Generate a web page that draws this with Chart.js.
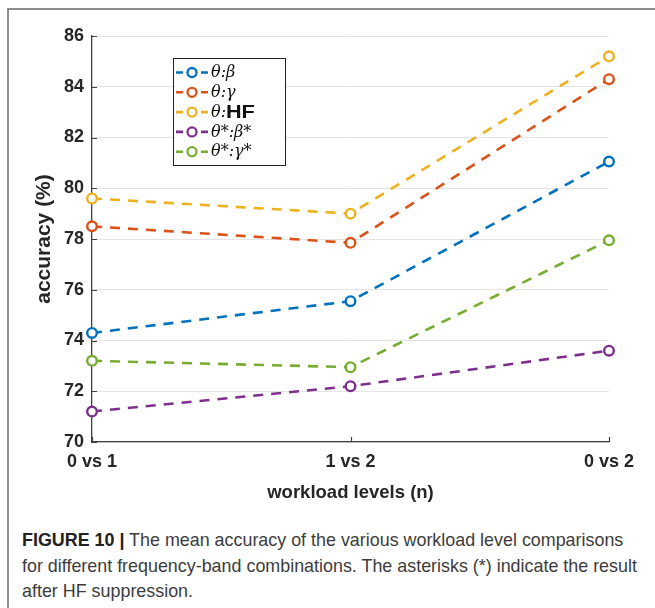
<!DOCTYPE html>
<html>
<head>
<meta charset="utf-8">
<script src="https://cdn.jsdelivr.net/npm/chart.js@4.4.1/dist/chart.umd.min.js"></script>
<style>
  html, body { margin: 0; padding: 0; background: #fff; }
  body { width: 655px; height: 608px; position: relative; overflow: hidden;
         font-family: "Liberation Sans", Arial, sans-serif; }
  #frame { position: absolute; left: 7px; top: 8px; width: 700px; height: 700px;
           border-top: 2px solid #8c8c8c; border-left: 2px solid #8c8c8c; }
  #plot { position: absolute; left: 0; top: 0; width: 655px; height: 520px; }
  #caption { position: absolute; left: 22px; top: 528px; font-size: 17.9px; line-height: 25.5px;
             color: #3c3c3c; white-space: nowrap; }
  #caption b { color: #222; }
</style>
</head>
<body>
<div id="frame"></div>
<div id="plot"><canvas id="chart" width="655" height="520"></canvas></div>
<div id="caption"><b>FIGURE 10 |</b> The mean accuracy of the various workload level comparisons<br>for different frequency-band combinations. The asterisks (*) indicate the result<br>after HF suppression.</div>

<script>
// Workload comparisons on the x axis
const categories = ['0 vs 1', '1 vs 2', '0 vs 2'];

// Mean accuracy (%) per frequency-band combination
const thetaBeta          = [74.3, 75.55, 81.05];
const thetaGamma         = [78.5, 77.85, 84.3];
const thetaHF            = [79.6, 79.0, 85.2];
const thetaStarBetaStar  = [71.2, 72.2, 73.6];
const thetaStarGammaStar = [73.2, 72.95, 77.95];

const seriesNames  = ['θ:β', 'θ:γ', 'θ:HF', 'θ*:β*', 'θ*:γ*'];
const seriesColors = ['#0072BD', '#D95319', '#EDB120', '#7E2F8E', '#77AC30'];
const seriesValues = [thetaBeta, thetaGamma, thetaHF, thetaStarBetaStar, thetaStarGammaStar];

// Y axis range and tick step
const yMin = 70, yMax = 86, yStep = 2;

const xTitle = 'workload levels (n)';
const yTitle = 'accuracy (%)';

const SANS = '"Liberation Sans", Arial, sans-serif';
const SERIF_IT = 'italic 16px "DejaVu Serif", serif';
const TEXT = '#262626';
const AXIS = '#404040';

// Short inward tick marks on both axes
const innerTicks = {
  id: 'innerTicks',
  beforeDatasetsDraw(chart) {
    const { ctx, chartArea: a, scales: { x, y } } = chart;
    ctx.save();
    ctx.strokeStyle = AXIS;
    ctx.lineWidth = 1.2;
    ctx.beginPath();
    y.ticks.forEach((t, i) => {
      const py = Math.round(y.getPixelForTick(i)) + 0.5;
      ctx.moveTo(a.left, py); ctx.lineTo(a.left + 5, py);
    });
    x.ticks.forEach((t, i) => {
      const px = Math.round(x.getPixelForTick(i)) + 0.5;
      ctx.moveTo(px, a.bottom); ctx.lineTo(px, a.bottom - 5);
    });
    ctx.stroke();
    ctx.restore();
  }
};

// Boxed legend with mixed italic-serif / bold-sans labels
const boxedLegend = {
  id: 'boxedLegend',
  afterDraw(chart) {
    const { ctx } = chart;
    const bx = 173.5, by = 58.5, bw = 112, bh = 107;
    ctx.save();
    ctx.fillStyle = '#fff';
    ctx.fillRect(bx, by, bw, bh);
    ctx.strokeStyle = '#222';
    ctx.lineWidth = 1;
    ctx.strokeRect(bx, by, bw, bh);
    chart.data.datasets.forEach((ds, i) => {
      const cy = 72.5 + i * 19.8;
      ctx.strokeStyle = ds.borderColor;
      ctx.lineWidth = 2.6;
      ctx.setLineDash([]);
      ctx.beginPath();
      ctx.moveTo(176, cy); ctx.lineTo(183, cy);
      ctx.moveTo(201, cy); ctx.lineTo(208, cy);
      ctx.stroke();
      ctx.lineWidth = 2.3;
      ctx.fillStyle = '#fff';
      ctx.beginPath();
      ctx.arc(192, cy, 4.5, 0, Math.PI * 2);
      ctx.fill();
      ctx.stroke();
      // label text, drawn glyph by glyph
      ctx.fillStyle = '#111';
      ctx.textBaseline = 'middle';
      let tx = 211;
      for (const ch of ds.label) {
        const sans = /[A-Z]/.test(ch);
        ctx.font = sans ? 'bold 18px ' + SANS : SERIF_IT;
        const sx = sans ? 1.2 : 1.0;
        ctx.save();
        ctx.translate(tx, cy + (sans ? 0.5 : 0.5));
        ctx.scale(sx, 1);
        ctx.fillText(ch, 0, 0);
        ctx.restore();
        tx += ctx.measureText(ch).width * sx;
      }
    });
    ctx.restore();
  }
};

const datasets = seriesValues.map((vals, i) => ({
  label: seriesNames[i],
  data: vals,
  borderColor: seriesColors[i],
  backgroundColor: seriesColors[i],
  borderWidth: 2.6,
  borderDash: [10, 8],
  pointRadius: 4.8,
  pointBorderWidth: 2.4,
  pointBackgroundColor: '#fff',
  pointBorderColor: seriesColors[i],
  tension: 0,
  clip: false
}));

new Chart(document.getElementById('chart'), {
  type: 'line',
  data: { labels: categories, datasets },
  plugins: [innerTicks, boxedLegend],
  options: {
    responsive: false,
    animation: false,
    devicePixelRatio: 1,
    layout: { padding: { left: 0, top: 36, right: 46, bottom: 0 } },
    plugins: { legend: { display: false }, tooltip: { enabled: false } },
    scales: {
      x: {
        grid: { display: true, color: 'rgba(0,0,0,0)', drawTicks: false },
        border: { display: true, color: AXIS, width: 1.3 },
        ticks: { padding: 9, color: TEXT, maxRotation: 0, autoSkip: false,
                 font: { family: SANS, size: 18, weight: 'bold' } },
        title: { display: true, text: xTitle, color: TEXT,
                 font: { family: SANS, size: 18.5, weight: 'bold' },
                 padding: { top: 0, bottom: 16 } },
        afterFit(scale) { scale.height = 78; }
      },
      y: {
        min: yMin, max: yMax,
        grid: { color: '#e4e4e4', lineWidth: 1, drawTicks: false },
        border: { display: true, color: AXIS, width: 1.3 },
        ticks: { stepSize: yStep, padding: 8, color: TEXT,
                 font: { family: SANS, size: 18, weight: 'bold' } },
        title: { display: true, text: yTitle, color: TEXT,
                 font: { family: SANS, size: 21, weight: 'bold' },
                 padding: { top: 32, bottom: 0 } },
        afterFit(scale) { scale.width = 92; }
      }
    }
  }
});
</script>
</body>
</html>
